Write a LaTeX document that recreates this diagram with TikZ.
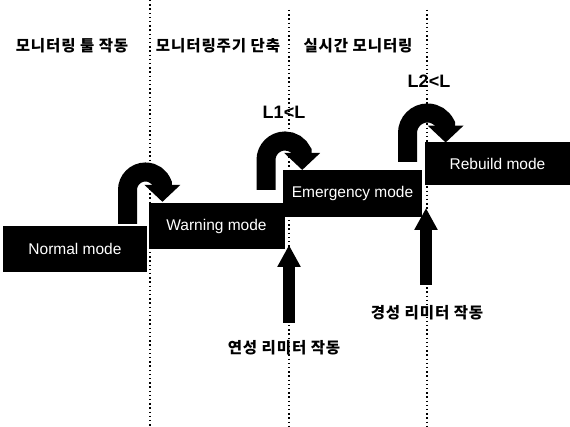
\documentclass[tikz,border=0pt]{standalone}
\usepackage{fontspec}
\setmainfont{Liberation Sans}
\newfontfamily\kr[LetterSpace=6]{Noto Sans CJK KR}
\usetikzlibrary{arrows.meta}
\begin{document}
\begin{tikzpicture}[x=1pt,y=-1pt,
  modebox/.style={fill=black,text=white,inner sep=0pt,font=\fontsize{15.5}{18}\selectfont},
  phase/.style={font=\kr\bfseries\fontsize{15.5}{18}\selectfont,inner sep=0pt},
  cond/.style={font=\bfseries\fontsize{18}{20}\selectfont,inner sep=0pt},
  divider/.style={line width=1.2pt,dash pattern=on 1.4pt off 2.8pt},
  uturn/.style={line width=19pt,-{Triangle[width=35pt,length=17pt]}},
  uparrow/.style={line width=12pt,-{Triangle[width=22pt,length=22pt]}}]
\useasboundingbox (0,0) rectangle (570,427);
\fill[white] (0,0) rectangle (570,427);
% dividers
\coordinate (d1t) at (150,0);   \coordinate (d1b) at (150,427);
\coordinate (d2t) at (289,10);  \coordinate (d2b) at (289,427);
\coordinate (d3t) at (427,10);  \coordinate (d3b) at (427,427);
\draw[divider] (d1t) -- (d1b);
\draw[divider] (d2t) -- (d2b);
\draw[divider] (d3t) -- (d3b);
% phase labels
\node[phase] (p1) at (72,46) {모니터링 툴 작동};
\node[phase] (p2) at (218,46) {모니터링주기 단축};
\node[phase] (p3) at (358,46) {실시간 모니터링};
% mode boxes
\node[modebox,minimum width=144pt,minimum height=46pt] (normal) at (75,249) {Normal mode};
\node[modebox,minimum width=136pt,minimum height=46pt] (warning) at (216.5,226) {Warning mode};
\node[modebox,minimum width=139pt,minimum height=47pt] (emergency) at (352.5,193.5) {Emergency mode};
\node[modebox,minimum width=145pt,minimum height=43pt] (rebuild) at (497.5,163.5) {Rebuild mode};
% conditions
\node[cond] (c1) at (284,112) {L1<L};
\node[cond] (c2) at (429,81) {L2<L};
% u-turn arrows
\coordinate (u1) at (127.5,224);
\coordinate (u2) at (266,190);
\coordinate (u3) at (407.5,162);
\draw[uturn] (u1) -- (127.5,190) arc[start angle=180,end angle=20,radius=18pt] -- ++(0,18);
\draw[uturn] (u2) -- (266,160) arc[start angle=180,end angle=25,radius=19pt] -- ++(0,18);
\draw[uturn] (u3) -- (407.5,133) arc[start angle=180,end angle=25,radius=20pt] -- ++(0,18);
% limiter labels and arrows
\node[phase] (soft) at (284,348) {연성 리미터 작동};
\node[phase] (hard) at (427,313) {경성 리미터 작동};
\coordinate (s0) at (289,323); \coordinate (s1) at (289,245);
\coordinate (h0) at (426,285); \coordinate (h1) at (426,208);
\draw[uparrow] (s0) -- (s1);
\draw[uparrow] (h0) -- (h1);
\end{tikzpicture}
\end{document}
